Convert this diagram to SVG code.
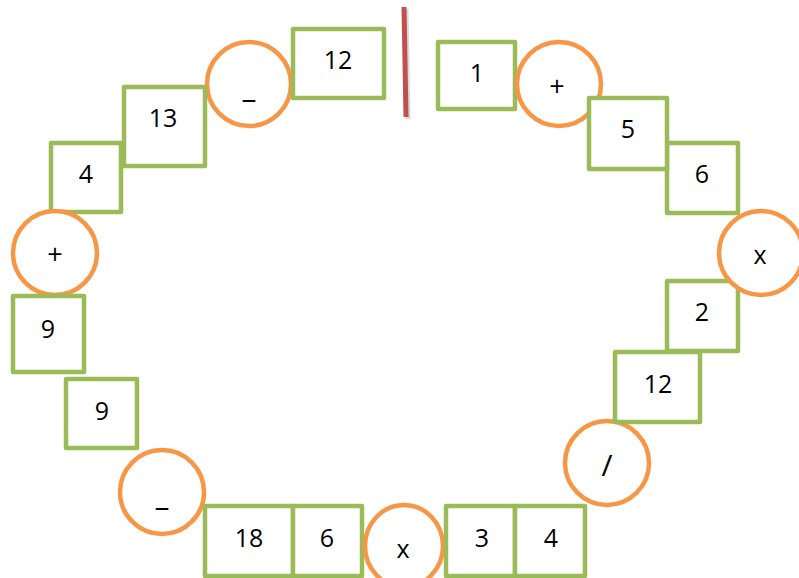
<svg xmlns="http://www.w3.org/2000/svg" width="799" height="578" viewBox="0 0 799 578">
<style>
.b{fill:#fff;stroke:#9BBB59;stroke-width:4.5;stroke-linejoin:round}
.c{fill:#fff;stroke:#F79646;stroke-width:4.5}
text{font-family:"Open Sans","Liberation Sans",sans-serif;font-size:25px;fill:#000;text-anchor:middle}
.op{font-size:27px}
.mn{font-size:30px}
</style>
<rect width="799" height="578" fill="#fff"/>
<g id="connectors">
<line x1="406" y1="9" x2="408" y2="119" stroke="#000" stroke-opacity="0.15" stroke-width="5"/>
<line x1="404" y1="7" x2="406" y2="117" stroke="#C0504D" stroke-width="5"/>
</g>
<g id="n_minus_top"><circle class="c" cx="249" cy="84" r="42"/><text class="mn" x="249" y="109">–</text></g>
<g id="n_12_top"><rect class="b" x="293" y="29" width="91" height="69"/><text x="338" y="69">12</text></g>
<g id="n_1"><rect class="b" x="438" y="42" width="77" height="67"/><text x="477" y="82">1</text></g>
<g id="n_plus_top"><circle class="c" cx="559" cy="84" r="42"/><text class="op" x="557" y="96">+</text></g>
<g id="n_13"><rect class="b" x="124" y="87" width="81" height="79"/><text x="163" y="127">13</text></g>
<g id="n_4_left"><rect class="b" x="51" y="143" width="70" height="69"/><text x="86" y="183">4</text></g>
<g id="n_plus_left"><circle class="c" cx="55" cy="253" r="42"/><text class="op" x="55" y="264">+</text></g>
<g id="n_9a"><rect class="b" x="13" y="296" width="71" height="76"/><text x="48" y="338">9</text></g>
<g id="n_9b"><rect class="b" x="66" y="379" width="71" height="69"/><text x="102" y="420">9</text></g>
<g id="n_minus_bottom"><circle class="c" cx="162" cy="492" r="42"/><text class="mn" x="162" y="517">–</text></g>
<g id="n_18"><rect class="b" x="205" y="506" width="88" height="70"/><text x="249" y="547">18</text></g>
<g id="n_6_bottom"><rect class="b" x="293" y="506" width="69" height="70"/><text x="327" y="547">6</text></g>
<g id="n_x_bottom"><ellipse class="c" cx="404" cy="546" rx="39" ry="41"/><text x="403" y="558">x</text></g>
<g id="n_3"><rect class="b" x="446" y="506" width="69" height="70"/><text x="482" y="547">3</text></g>
<g id="n_4_bottom"><rect class="b" x="515" y="506" width="70" height="70"/><text x="551" y="547">4</text></g>
<g id="n_div"><circle class="c" cx="607" cy="463" r="42"/><text x="607" y="476" style="font-size:30px">/</text></g>
<g id="n_12_right"><rect class="b" x="615" y="352" width="85" height="70"/><text x="658" y="393">12</text></g>
<g id="n_2"><rect class="b" x="667" y="281" width="71" height="70"/><text x="702" y="321">2</text></g>
<g id="n_x_right"><circle class="c" cx="761" cy="253" r="42"/><text x="760" y="264">x</text></g>
<g id="n_6_right"><rect class="b" x="667" y="143" width="71" height="70"/><text x="702" y="183">6</text></g>
<g id="n_5"><rect class="b" x="589" y="98" width="78" height="71"/><text x="628" y="138">5</text></g>
</svg>
